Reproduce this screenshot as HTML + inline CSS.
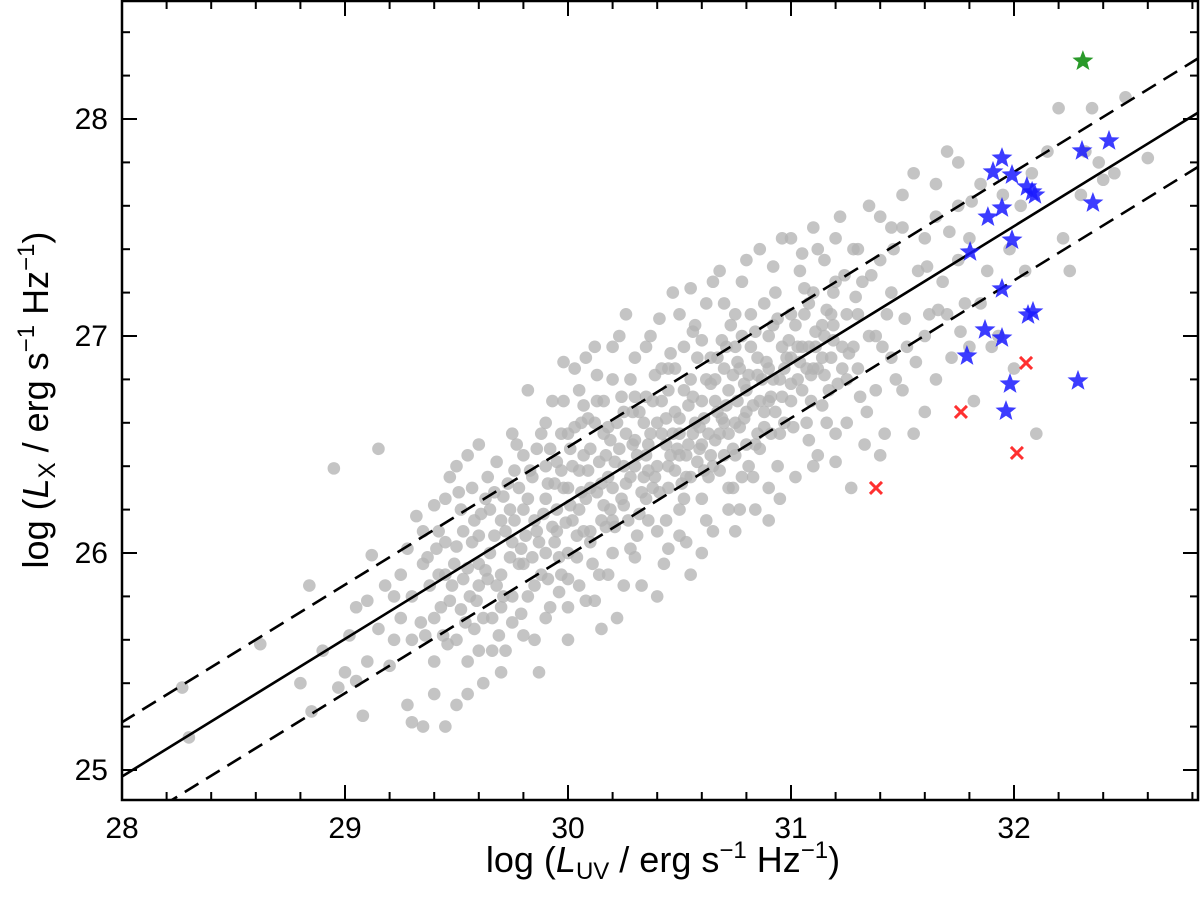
<!DOCTYPE html>
<html><head><meta charset="utf-8"><style>
html,body{margin:0;padding:0;background:#fff;}
svg{display:block;font-family:"Liberation Sans",Arial,sans-serif;}
</style></head><body>
<svg id="chart" width="1200" height="906" viewBox="0 0 1200 906" xmlns="http://www.w3.org/2000/svg">
<defs><clipPath id="clip"><rect x="122" y="1" width="1076" height="799"/></clipPath></defs>
<g id="gray" clip-path="url(#clip)"></g>
<g id="lines" clip-path="url(#clip)"></g>
<g id="special" clip-path="url(#clip)"></g>
<g id="axes"></g>
<text x="663" y="872" font-size="36" text-anchor="middle">log (<tspan font-style="italic">L</tspan><tspan font-size="24" dy="7">UV</tspan><tspan dy="-7"> / erg s</tspan><tspan font-size="24" dy="-14">−1</tspan><tspan dy="14"> Hz</tspan><tspan font-size="24" dy="-14">−1</tspan><tspan dy="14">)</tspan></text>
<text transform="translate(48,400) rotate(-90)" font-size="36" text-anchor="middle">log (<tspan font-style="italic">L</tspan><tspan font-size="24" dy="7">X</tspan><tspan dy="-7"> / erg s</tspan><tspan font-size="24" dy="-14">−1</tspan><tspan dy="14"> Hz</tspan><tspan font-size="24" dy="-14">−1</tspan><tspan dy="14">)</tspan></text>
</svg>
<script>
const xTicks=[28,29,30,31,32];
const yTicks=[25,26,27,28];
const fitIntercept=24.97, fitSlope=0.634, fitScatter=0.25;
const grayPoints=[[28.27,25.38],[28.3,25.15],[28.62,25.58],[28.85,25.27],[28.84,25.85],[28.95,26.39],[28.97,25.38],[29.02,25.62],[29.05,25.41],[29.1,25.78],[29.12,25.99],[29.15,26.48],[29.2,25.48],[29.22,25.6],[29.25,25.9],[29.28,25.3],[29.3,25.22],[29.32,26.17],[29.34,25.68],[29.35,25.2],[29.37,25.98],[29.4,26.22],[29.4,25.5],[29.42,26.1],[29.43,25.75],[29.45,25.9],[29.46,25.58],[29.47,26.35],[29.5,26.03],[29.5,25.3],[29.52,25.74],[29.52,26.2],[29.55,25.5],[29.55,25.93],[29.57,26.3],[29.58,25.65],[29.6,26.08],[29.6,25.85],[29.62,25.4],[29.63,26.25],[29.65,26.0],[29.66,25.7],[29.68,26.42],[29.7,25.9],[29.7,26.15],[29.72,25.55],[29.73,26.32],[29.75,25.8],[29.75,26.05],[29.77,26.5],[29.78,25.95],[29.8,26.2],[29.8,25.62],[29.82,26.75],[29.83,26.38],[29.85,25.85],[29.86,26.1],[29.87,25.45],[29.88,26.55],[29.9,26.0],[29.9,26.25],[29.92,25.75],[29.93,26.7],[29.95,26.42],[29.95,26.1],[29.97,25.9],[29.98,26.3],[30.0,26.55],[30.0,25.6],[30.02,26.15],[30.03,26.85],[30.04,25.98],[30.05,26.38],[30.06,26.6],[30.08,25.78],[30.08,26.25],[30.1,26.48],[30.1,26.05],[30.12,26.95],[30.13,26.7],[30.14,25.9],[30.15,26.32],[30.17,26.12],[30.18,26.58],[30.2,26.8],[30.2,26.0],[30.21,26.42],[30.22,25.7],[30.24,26.25],[30.25,26.65],[30.26,27.1],[30.28,26.35],[30.28,26.02],[30.3,26.52],[30.3,26.9],[30.32,26.18],[30.33,25.85],[30.35,26.72],[30.35,26.45],[30.37,27.0],[30.38,26.3],[30.4,26.6],[30.4,26.1],[30.42,26.85],[30.43,25.95],[30.44,26.5],[30.45,26.75],[30.47,27.2],[30.48,26.38],[30.5,26.62],[30.5,26.2],[30.52,26.95],[30.53,26.05],[30.54,26.5],[30.55,26.8],[30.57,27.05],[30.58,26.42],[30.6,26.7],[30.6,26.25],[30.62,27.15],[30.63,26.55],[30.64,26.9],[30.65,26.1],[30.67,26.65],[30.68,27.3],[30.7,26.45],[30.7,26.85],[30.72,26.3],[30.73,27.05],[30.75,26.6],[30.75,26.95],[30.77,26.2],[30.78,27.25],[30.8,26.75],[30.8,26.5],[30.82,27.1],[30.83,26.35],[30.85,26.9],[30.86,27.4],[30.88,26.65],[30.9,27.0],[30.9,26.15],[30.92,26.8],[30.93,27.2],[30.95,26.55],[30.96,27.45],[30.98,26.9],[31.0,27.1],[31.0,26.7],[31.02,26.35],[31.04,27.3],[31.05,26.95],[31.07,26.6],[31.08,27.15],[31.1,27.5],[31.1,26.85],[31.12,26.45],[31.14,27.05],[31.15,27.35],[31.17,26.75],[31.19,27.2],[31.2,26.55],[31.22,27.55],[31.23,26.95],[31.25,27.1],[31.27,26.3],[31.28,27.4],[31.3,26.85],[31.32,27.25],[31.34,26.65],[31.35,27.6],[31.38,27.0],[31.4,27.35],[31.42,26.55],[31.45,27.2],[31.47,26.8],[31.5,27.5],[31.52,26.95],[31.55,27.75],[31.57,27.3],[31.6,26.65],[31.62,27.1],[31.65,27.55],[31.68,27.25],[31.7,27.85],[31.72,26.9],[31.75,27.6],[31.78,27.15],[31.8,27.45],[31.82,26.7],[31.85,27.7],[31.88,27.3],[31.9,26.95],[31.93,27.0],[31.95,27.65],[31.98,27.4],[32.0,26.85],[32.03,27.6],[32.05,27.3],[32.08,27.75],[32.1,26.55],[32.15,27.85],[32.2,28.05],[32.22,27.45],[32.3,27.65],[32.32,27.85],[32.35,28.05],[32.38,27.8],[32.45,27.75],[32.5,28.1],[32.6,27.82],[32.25,27.3],[32.4,27.72],
[29.6,25.95],[29.65,26.2],[29.7,25.75],[29.72,26.1],[29.78,26.3],[29.8,25.95],[29.85,26.15],[29.88,25.9],[29.9,26.4],[29.95,26.2],[29.97,26.55],[30.0,26.3],[30.0,26.0],[30.05,26.2],[30.07,26.45],[30.1,26.3],[30.12,26.6],[30.15,26.15],[30.17,26.45],[30.2,26.3],[30.22,26.6],[30.25,26.4],[30.27,26.15],[30.3,26.4],[30.32,26.65],[30.35,26.25],[30.37,26.55],[30.4,26.4],[30.42,26.7],[30.45,26.3],[30.47,26.55],[30.5,26.45],[30.52,26.75],[30.55,26.35],[30.57,26.6],[30.6,26.5],[30.62,26.8],[30.65,26.4],[30.67,26.9],[30.7,26.6],[30.72,26.75],[30.75,26.45],[30.77,26.85],[30.8,26.65],[30.82,26.95],[30.85,26.55],[30.87,26.8],[30.9,26.7],[30.92,27.05],[30.95,26.8],[30.97,26.6],[31.0,26.9],[31.02,27.05],[31.05,26.75],[31.08,26.95],[31.1,27.2],[31.12,26.85],[31.15,27.0],[31.18,26.9],[31.2,27.25],[31.25,26.8],[31.3,27.1],[31.35,27.0],[29.3,25.8],[29.35,25.95],[29.4,25.7],[29.45,26.05],[29.48,25.85],[29.5,25.6],[29.53,26.1],[29.56,25.8],[29.58,26.15],[29.62,25.7],[29.3,25.6],[29.25,25.7],[29.18,25.85],[29.1,25.5],[29.08,25.25],[29.0,25.45],[28.9,25.55],[28.8,25.4],[29.4,25.35],[29.45,25.2],[29.55,25.35],[29.7,25.45],[29.85,25.6],[30.0,25.75],[30.15,25.65],[30.25,25.85],[30.4,25.8],[30.55,25.9],[30.6,26.0],[30.75,26.1],[30.9,26.3],[31.1,26.4],[31.25,26.6],[31.4,26.45],[31.55,26.55],[31.45,26.9],[31.5,26.75],[31.6,27.0],[31.65,26.8],[31.7,27.1],[31.75,27.35],[31.85,27.15],[31.8,26.95],[30.8,27.35],[30.65,27.25],[30.5,27.1],[30.35,26.95],[30.2,26.95],[30.05,26.75],[29.9,26.6],[29.75,26.55],[29.6,26.5],[29.5,26.4],[31.0,27.45],[31.2,27.45],[31.4,27.55],[31.3,27.4],[31.6,27.45],[31.5,27.65],[31.65,27.7],[31.75,27.8],[31.45,27.5],[31.12,27.4],
[30.1,26.1],[30.18,26.35],[30.26,26.55],[30.34,26.35],[30.38,26.7],[30.46,26.45],[30.53,26.35],[30.58,26.9],[30.63,26.35],[30.68,26.55],[30.71,26.95],[30.76,26.7],[30.81,26.4],[30.86,26.7],[30.91,26.55],[30.96,26.95],[31.03,26.8],[31.06,27.1],[31.09,26.7],[31.14,26.9],[30.02,26.4],[29.94,26.05],[29.84,26.35],[29.76,26.15],[29.68,25.85],[29.64,26.35],[30.44,26.15],[30.56,26.55],[30.66,26.7],[30.74,26.3],[30.84,26.2],[30.94,26.4],[31.16,26.6],[30.28,26.8],[30.16,26.7],[30.08,26.9],[29.98,26.7],[30.48,26.85],[30.78,27.0],[30.88,27.15],[31.18,27.1],[31.28,26.95],[31.33,26.5],[31.38,26.75],[31.43,27.1],
[29.36,25.62],[29.38,25.85],[29.41,26.02],[29.44,25.62],[29.49,25.95],[29.51,26.28],[29.54,25.68],[29.59,25.78],[29.61,26.18],[29.64,25.88],[29.67,26.08],[29.69,25.62],[29.71,26.26],[29.74,25.98],[29.76,26.38],[29.79,25.72],[29.81,26.08],[29.84,25.98],[29.86,26.48],[29.89,26.18],[29.91,25.88],[29.94,26.32],[29.96,25.98],[29.99,26.14],[30.01,26.48],[30.04,26.08],[30.06,26.28],[30.09,26.62],[30.11,25.95],[30.14,26.42],[30.16,26.22],[30.19,26.52],[30.21,26.12],[30.24,26.72],[30.26,26.32],[30.29,26.5],[30.31,26.08],[30.34,26.6],[30.36,26.38],[30.39,26.82],[30.41,26.28],[30.44,26.62],[30.46,26.92],[30.49,26.48],[30.51,26.32],[30.54,26.68],[30.56,27.02],[30.59,26.58],[30.61,26.38],[30.64,26.78],[30.66,26.52],[30.69,26.98],[30.71,26.68],[30.74,26.48],[30.76,26.88],[30.79,26.62],[30.81,26.82],[30.84,27.02],[30.86,26.48],[30.89,26.88],[30.91,26.72],[30.94,27.08],[30.96,26.72],[30.99,26.98],[31.01,26.58],[31.04,26.88],[31.06,27.22],[31.09,26.82],[31.11,27.02],[31.14,26.68],[31.16,27.12],[31.19,26.98],[31.21,26.78],[31.24,27.28],[31.26,26.92],[31.29,27.18],[31.31,26.72],[31.36,27.28],[31.41,26.95],[31.46,27.4],[31.51,27.08],[31.56,26.88],[31.61,27.32],[31.66,27.12],[31.71,27.48],[31.76,27.02],[31.81,27.62],[29.98,26.88],[30.13,26.82],[30.23,27.0],[30.41,27.08],[30.55,27.22],[30.7,27.15],[30.92,27.32],[31.05,27.38],[30.0,25.88],[30.12,25.78],[30.3,25.98],[30.45,26.02],[30.62,26.15],[30.78,26.35],[30.95,26.25],[31.08,26.52],[31.2,26.42],[29.55,26.45],[29.45,26.25],[29.35,26.1],[29.28,26.02],[29.22,25.8],[29.15,25.65],[29.05,25.75],[29.6,25.55],[29.75,25.68],[29.9,25.7],[30.05,25.85],[30.18,25.9],[30.5,26.08],[30.72,26.2],
[29.42,25.9],[29.47,25.78],[29.53,25.88],[29.57,26.05],[29.63,25.92],[29.67,26.28],[29.71,25.8],[29.74,26.2],[29.79,26.02],[29.82,26.25],[29.87,26.05],[29.91,26.32],[29.93,26.12],[29.97,26.38],[30.01,26.22],[30.03,26.58],[30.07,26.1],[30.09,26.38],[30.13,26.28],[30.16,26.55],[30.19,26.2],[30.23,26.48],[30.25,26.22],[30.29,26.65],[30.31,26.45],[30.33,26.28],[30.36,26.5],[30.39,26.35],[30.42,26.55],[30.45,26.4],[30.48,26.65],[30.5,26.55],[30.53,26.45],[30.56,26.72],[30.59,26.48],[30.61,26.62],[30.64,26.45],[30.66,26.8],[30.69,26.62],[30.72,26.55],[30.74,26.82],[30.77,26.58],[30.79,26.78],[30.83,26.68],[30.85,26.82],[30.88,26.58],[30.9,26.85],[30.93,26.65],[30.97,26.85],[31.0,26.78],[31.03,26.95],[31.07,26.85],[31.11,26.95],[31.15,26.82],[31.19,27.05],[31.23,26.85],[30.3,26.72],[30.45,26.85],[30.6,26.98],[30.75,27.1],[30.2,26.15],[30.36,26.15],[30.52,26.25],[30.68,26.38],[30.84,26.5],[29.8,26.45],[29.92,26.48],[30.07,26.68],[29.66,25.55],[29.82,25.8],[29.96,25.82]];
const blueStars=[[31.946,27.82],[31.906,27.756],[31.991,27.742],[32.058,27.687],[32.081,27.664],[32.094,27.65],[32.305,27.853],[32.426,27.899],[31.946,27.59],[31.883,27.548],[32.354,27.613],[31.991,27.442],[31.803,27.387],[31.946,27.217],[32.085,27.111],[32.063,27.097],[31.87,27.028],[31.946,26.991],[31.789,26.908],[31.982,26.779],[32.287,26.793],[31.964,26.654]];
const greenStars=[[32.309,28.267]];
const redCrosses=[[32.054,26.876],[31.762,26.65],[32.013,26.461],[31.381,26.3]];

const NS='http://www.w3.org/2000/svg';
const X0=122,X1=1198,Y0=1,Y1=800;
const xScale=v=>122+(v-28)*223;
const yScale=v=>119+(28-v)*217;
function mk(tag,attrs,parent){const e=document.createElementNS(NS,tag);for(const k in attrs)e.setAttribute(k,attrs[k]);parent.appendChild(e);return e;}

const gGray=document.getElementById('gray');
grayPoints.forEach(p=>{
  const c=mk('circle',{cx:xScale(p[0]),cy:yScale(p[1]),r:6.3,fill:'#b4b4b4','fill-opacity':0.78},gGray);
  
  
});

const gL=document.getElementById('lines');
[[0,'none','solid-fit-line'],[fitScatter,'16 9','upper-scatter-line'],[-fitScatter,'16 9','lower-scatter-line']].forEach(d=>{
  const xa=27.9,xb=33;
  const l=mk('line',{x1:xScale(xa),y1:yScale(fitIntercept+fitSlope*(xa-28)+d[0]),x2:xScale(xb),y2:yScale(fitIntercept+fitSlope*(xb-28)+d[0]),stroke:'#000','stroke-width':2.6,'stroke-dasharray':d[1]},gL);
  
  
});

const gS=document.getElementById('special');
function starPath(cx,cy,R){const r=R*0.42;let s='';for(let i=0;i<10;i++){const a=-Math.PI/2+i*Math.PI/5;const rr=i%2?r:R;s+=(i?'L':'M')+(cx+rr*Math.cos(a)).toFixed(1)+' '+(cy+rr*Math.sin(a)).toFixed(1);}return s+'Z';}
blueStars.forEach(p=>{
  const s=mk('path',{d:starPath(xScale(p[0]),yScale(p[1]),11),fill:'#1a1aff','fill-opacity':0.85},gS);
  
  
});
greenStars.forEach(p=>{
  const s=mk('path',{d:starPath(xScale(p[0]),yScale(p[1]),11),fill:'#2a9a2a'},gS);
  
  
});
redCrosses.forEach(p=>{
  const cx=xScale(p[0]),cy=yScale(p[1]),h=6;
  const c=mk('path',{d:`M${cx-h} ${cy-h}L${cx+h} ${cy+h}M${cx-h} ${cy+h}L${cx+h} ${cy-h}`,stroke:'#ff3030','stroke-width':3,fill:'none'},gS);
  
  
});

const gA=document.getElementById('axes');
const frame=mk('rect',{x:X0,y:Y0,width:X1-X0,height:Y1-Y0,fill:'none',stroke:'#000','stroke-width':2.5},gA);


for(let i=0;i<=25;i++){
  const v=28+i*0.2;const x=xScale(v);if(x>X1)break;
  const major=i%5===0;const L=major?15:8;
  mk('line',{x1:x,y1:Y1,x2:x,y2:Y1-L,stroke:'#000','stroke-width':2},gA);
  mk('line',{x1:x,y1:Y0,x2:x,y2:Y0+L,stroke:'#000','stroke-width':2},gA);
}
xTicks.forEach(v=>{
  const t=mk('text',{x:xScale(v),y:838,'font-size':30,'text-anchor':'middle'},gA);
  t.textContent=v;
  
  
});
for(let i=-1;i<=20;i++){
  const v=25+i*0.2;const y=yScale(v);if(y<Y0||y>Y1)continue;
  const major=Math.abs(v-Math.round(v))<1e-6;const L=major?15:8;
  mk('line',{x1:X0,y1:y,x2:X0+L,y2:y,stroke:'#000','stroke-width':2},gA);
  mk('line',{x1:X1,y1:y,x2:X1-L,y2:y,stroke:'#000','stroke-width':2},gA);
}
yTicks.forEach(v=>{
  const t=mk('text',{x:108,y:yScale(v)+10,'font-size':30,'text-anchor':'end'},gA);
  t.textContent=v;
  
  
});
</script>
</body></html>
